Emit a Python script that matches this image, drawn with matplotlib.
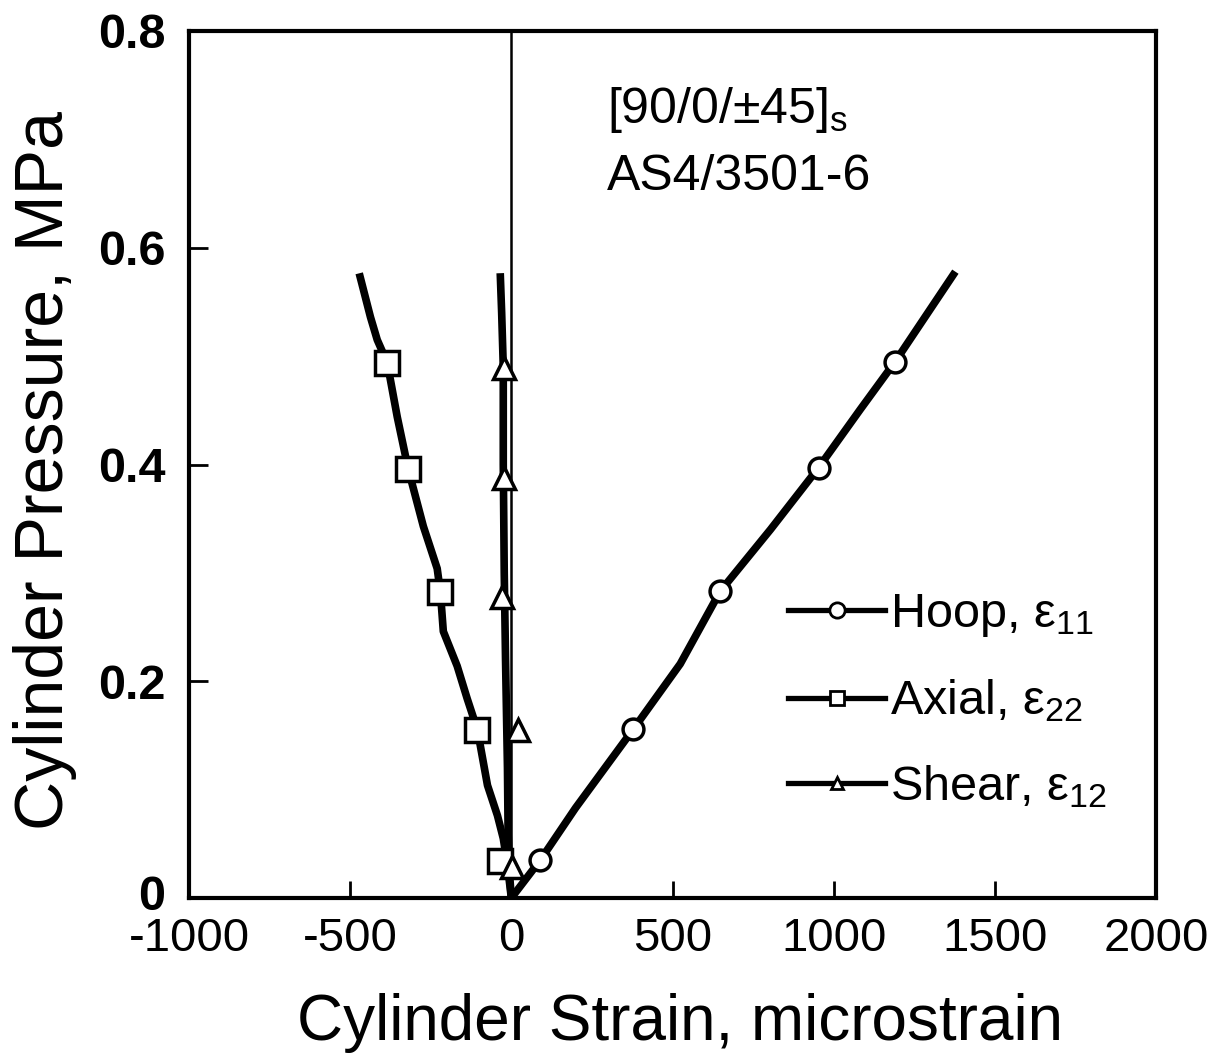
import matplotlib
matplotlib.use("Agg")
import matplotlib.pyplot as plt
from matplotlib.transforms import ScaledTranslation

# ---- data ----
hoop_x = [0, 90, 199, 379, 524, 648, 804, 953, 1083, 1191, 1371]
hoop_y = [0, 0.035, 0.083, 0.156, 0.216, 0.283, 0.340, 0.397, 0.451, 0.495, 0.575]
hoop_mx = [90, 379, 648, 953, 1191]
hoop_my = [0.035, 0.156, 0.283, 0.397, 0.495]

axial_x = [0, -12, -25, -43, -74, -105, -137, -168, -211, -220, -230, -273, -320, -354, -385, -416, -437, -469]
axial_y = [0, 0.030, 0.055, 0.076, 0.104, 0.155, 0.184, 0.214, 0.246, 0.282, 0.304, 0.343, 0.396, 0.444, 0.494, 0.515, 0.536, 0.573]
axial_mx = [-34, -105, -220, -320, -385]
axial_my = [0.034, 0.155, 0.282, 0.396, 0.494]

shear_x = [0, -5, -10, -12, -18, -22, -25, -25, -30, -34]
shear_y = [0, 0.02, 0.06, 0.12, 0.22, 0.30, 0.40, 0.49, 0.54, 0.573]
shear_mx = [3, 22, -29, -23, -23]
shear_my = [0.029, 0.155, 0.278, 0.388, 0.489]

xticks = [-1000, -500, 0, 500, 1000, 1500, 2000]
xticklabels = ["-1000", "-500", "0", "500", "1000", "1500", "2000"]
yticks = [0, 0.2, 0.4, 0.6, 0.8]
yticklabels = ["0", "0.2", "0.4", "0.6", "0.8"]

plt.rcParams['font.family'] = ['Liberation Sans', 'DejaVu Sans']
plt.rcParams['mathtext.fontset'] = 'custom'
plt.rcParams['mathtext.rm'] = 'Liberation Sans'
plt.rcParams['mathtext.it'] = 'Liberation Sans:italic'

W, H = 1221, 1062
fig = plt.figure(figsize=(W / 100, H / 100), dpi=100)
ax = fig.add_axes([189 / W, 1 - 898 / H, (1156 - 189) / W, (898 - 31) / H])

lw = 5.5
mew = 2.5
ax.axvline(0, color='black', lw=1.8, zorder=1)

ax.plot(hoop_x, hoop_y, color='black', lw=lw, solid_joinstyle='round', zorder=2)
ax.plot(axial_x, axial_y, color='black', lw=lw, solid_joinstyle='round', zorder=2)
ax.plot(shear_x, shear_y, color='black', lw=lw, solid_joinstyle='round', zorder=2)
ax.plot(hoop_mx, hoop_my, ls='none', marker='o', ms=15, mfc='white', mec='black', mew=mew, zorder=3)
ax.plot(axial_mx, axial_my, ls='none', marker='s', ms=17, mfc='white', mec='black', mew=mew, zorder=3)
ax.plot(shear_mx, shear_my, ls='none', marker='^', ms=16, mfc='white', mec='black', mew=mew, zorder=3)

# legend handles
h1, = ax.plot([], [], color='black', lw=3.8, marker='o', ms=11, mfc='white', mec='black', mew=2)
h2, = ax.plot([], [], color='black', lw=3.8, marker='s', ms=10, mfc='white', mec='black', mew=2)
h3, = ax.plot([], [], color='black', lw=3.8, marker='^', ms=9, mfc='white', mec='black', mew=2)
leg = ax.legend([h1, h2, h3],
                ['Hoop, ε$_{11}$', 'Axial, ε$_{22}$', 'Shear, ε$_{12}$'],
                loc='upper left', bbox_to_anchor=((788 - 189) / (1156 - 189), (898 - 592) / (898 - 31)),
                frameon=False, fontsize=35, handlelength=2.0, handletextpad=0.1,
                labelspacing=0.8, borderpad=0, borderaxespad=0)

ax.set_xlim(-1000, 2000)
ax.set_ylim(0, 0.8)
ax.set_xticks(xticks)
ax.set_xticklabels(xticklabels)
ax.set_yticks(yticks)
ax.set_yticklabels(yticklabels, fontweight='bold')
ax.tick_params(axis='x', direction='in', length=12, width=2, labelsize=34, pad=14)
ax.tick_params(axis='y', direction='in', length=14, width=2, labelsize=35, pad=17)
for s in ax.spines.values():
    s.set_linewidth(3)

# nudge the "0" pressure label up slightly so it clears the "-1000" strain label
zero_lab = ax.yaxis.get_major_ticks()[0].label1
zero_lab.set_transform(zero_lab.get_transform() + ScaledTranslation(0, 6 / 100, fig.dpi_scale_trans))

ax.text(607 / W, 1 - 123 / H, '[90/0/±45]$_\\mathregular{s}$', transform=fig.transFigure,
        fontsize=36, ha='left', va='baseline')
ax.text(607 / W, 1 - 190 / H, 'AS4/3501-6', transform=fig.transFigure,
        fontsize=36, ha='left', va='baseline')

fig.text(680 / W, 1 - 1040 / H, 'Cylinder Strain, microstrain', fontsize=46,
         ha='center', va='baseline')
fig.text(63 / W, 1 - 470 / H, 'Cylinder Pressure, MPa', fontsize=49,
         ha='center', va='baseline', rotation=90, rotation_mode='anchor')

fig.savefig('out.png', dpi=100)
